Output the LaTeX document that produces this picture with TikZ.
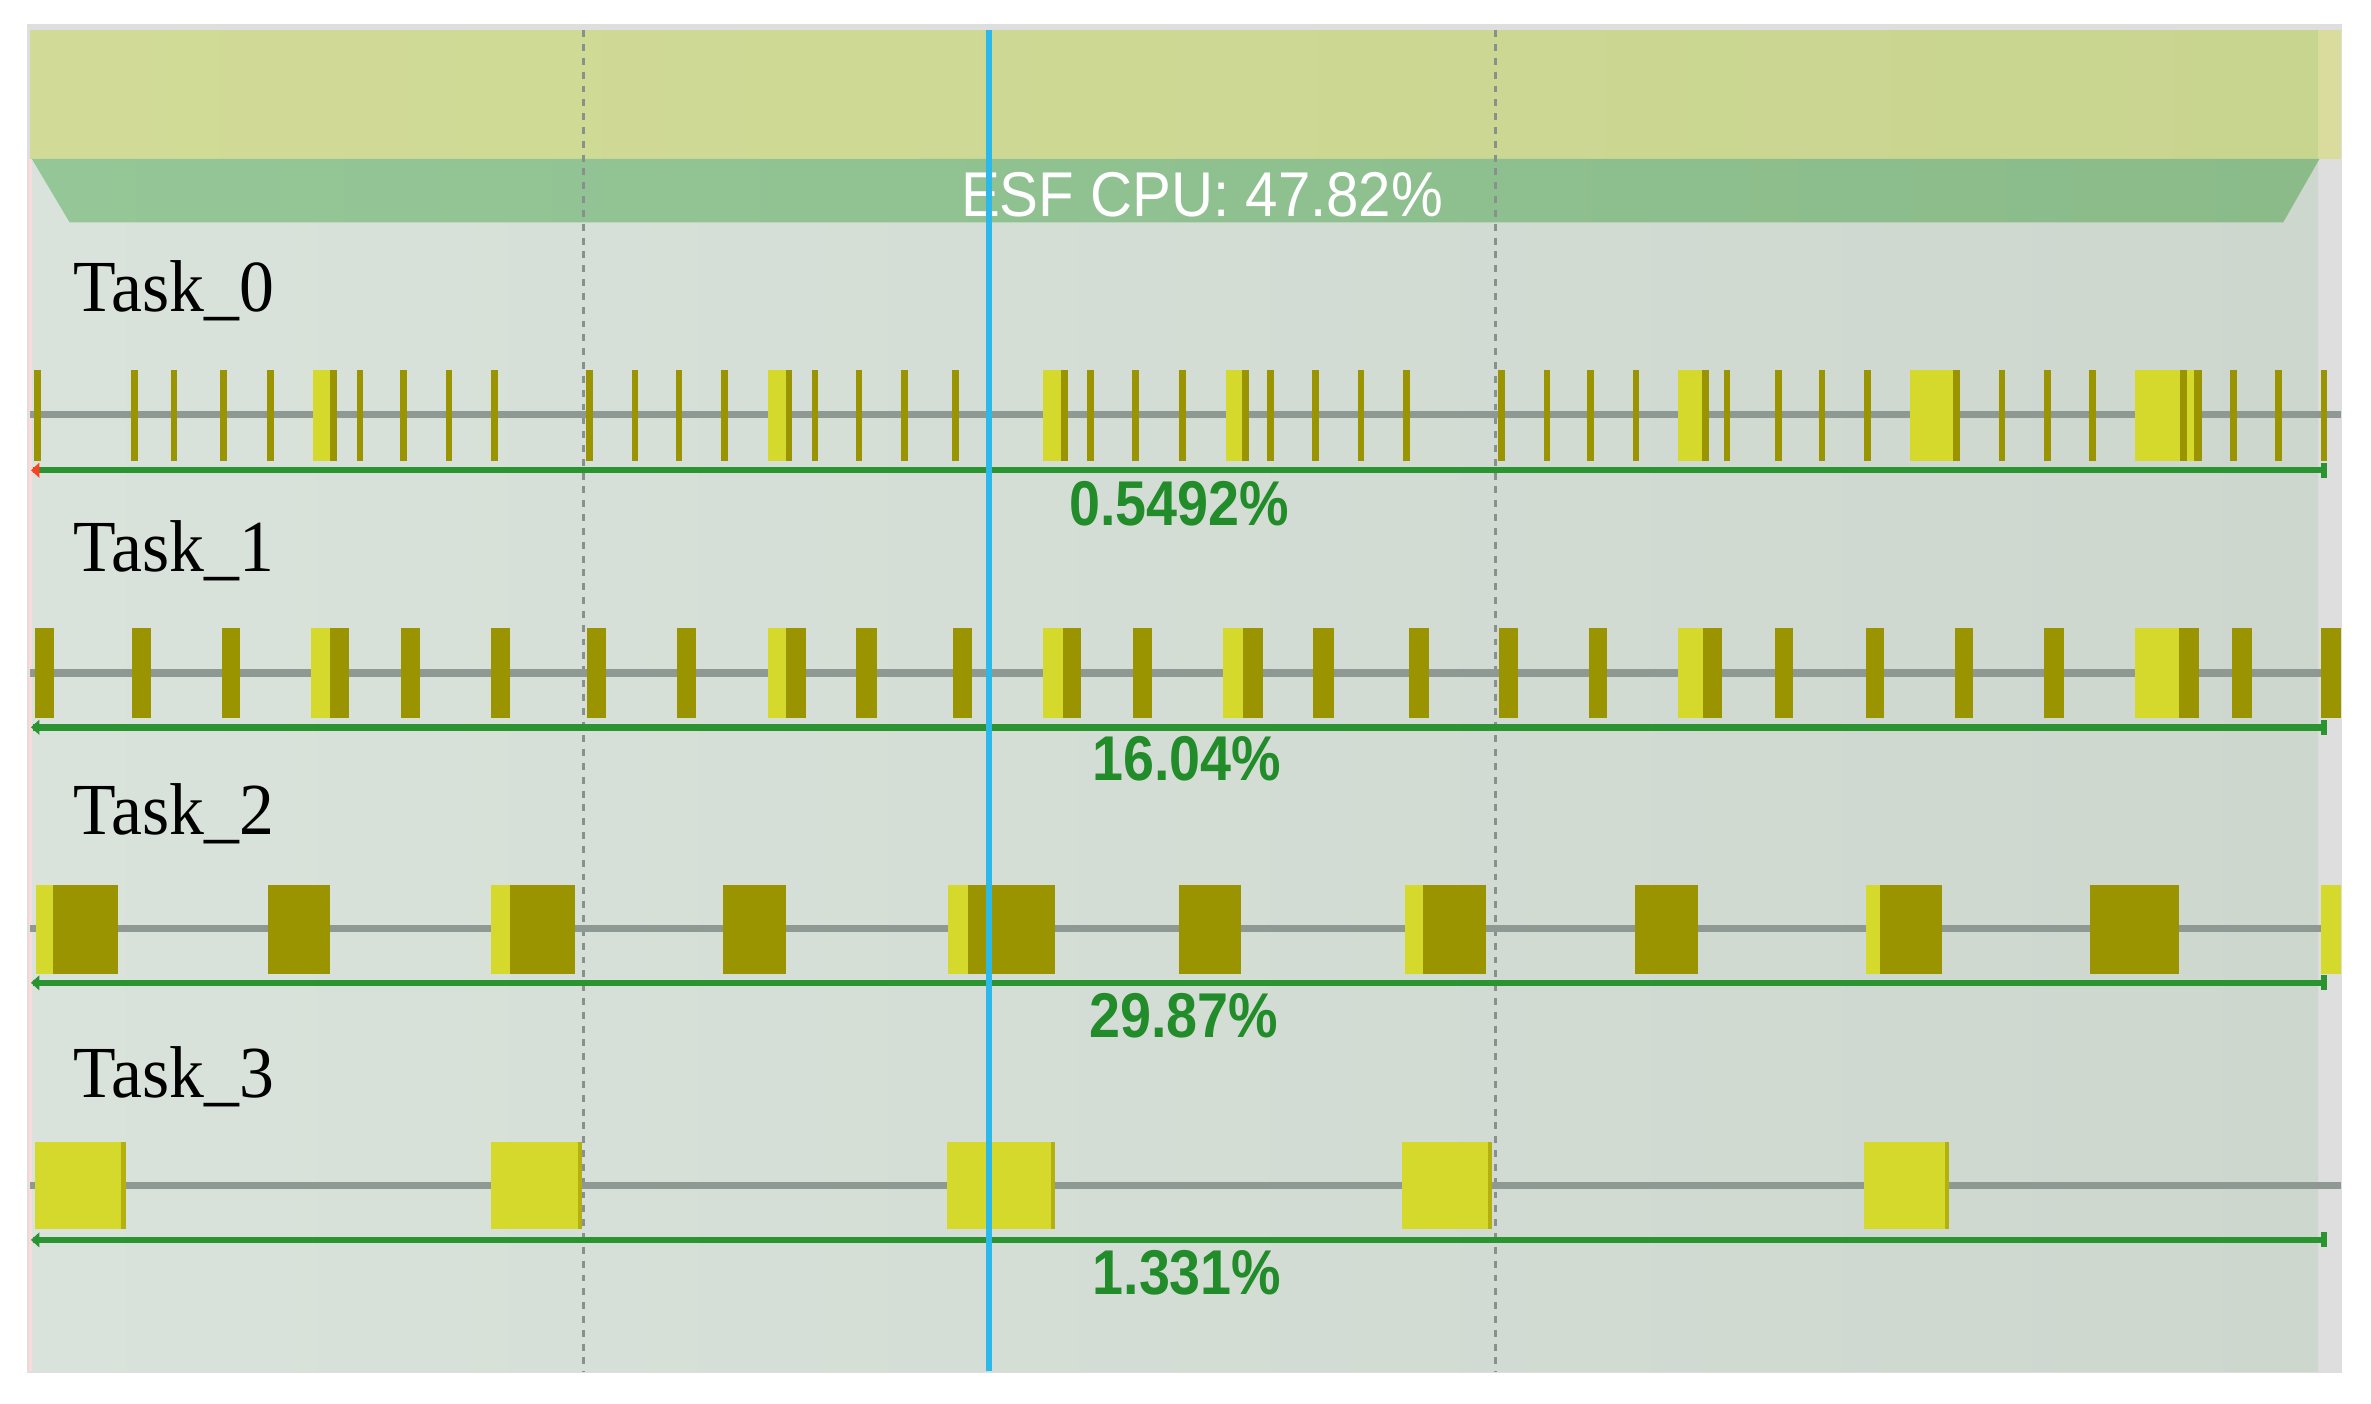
\documentclass[tikz,border=0pt]{standalone}
\usepackage{fontspec}
\setmainfont{Liberation Serif}
\newfontfamily\pctfont{Liberation Sans}
\definecolor{framegray}{HTML}{DEDEDE}
\definecolor{bodyL}{HTML}{DAE3DB}
\definecolor{bodyR}{HTML}{CDD7CE}
\definecolor{ybL}{HTML}{D1DB97}
\definecolor{ybR}{HTML}{C8D58F}
\definecolor{ybLight}{HTML}{D9DC9C}
\definecolor{gbL}{HTML}{95C697}
\definecolor{gbR}{HTML}{8ABB89}
\definecolor{barolive}{HTML}{9A9400}
\definecolor{baryellow}{HTML}{D5D92C}
\definecolor{edgeolive}{HTML}{B3B010}
\definecolor{timegray}{HTML}{8F9993}
\definecolor{greenline}{HTML}{2A9530}
\definecolor{pctgreen}{HTML}{218C29}
\definecolor{blueline}{HTML}{2DB8EA}
\definecolor{dotgray}{HTML}{8A908B}
\definecolor{capred}{HTML}{FF4020}
\begin{document}
\begin{tikzpicture}[x=0.01cm,y=-0.01cm,
  olv/.style={fill=barolive},
  ylw/.style={fill=baryellow},
  tline/.style={draw=timegray,line width=1.4pt},
  gline/.style={draw=greenline,line width=1.2pt},
  grid/.style={draw=dotgray,line width=0.45pt,dash pattern=on 1.3pt off 1.3pt},
  tasklabel/.style={anchor=base west,inner sep=0pt,font=\fontsize{13.8pt}{16pt}\selectfont,xscale=0.95},
  pct/.style={inner sep=0pt,text=pctgreen,font=\pctfont\bfseries\fontsize{11.9pt}{14pt}\selectfont,xscale=0.88}]
\useasboundingbox (0,0) rectangle (1568,928);
\fill[white] (0,0) rectangle (1568,928);
% frame and backgrounds
\fill[framegray] (18,16) rectangle (1549,908);
\shade[left color=bodyL,right color=bodyR] (20,105) rectangle (1533,907);
\shade[left color=ybL,right color=ybR] (20,20) rectangle (1533,105);
\fill[ybLight] (1533,20) rectangle (1548,105);
\shade[left color=gbL,right color=gbR] (21,105) -- (1534,105) -- (1510,147) -- (46,147) -- cycle;
\draw[color=red!15,line width=0.6pt] (20,105) -- (20,907);
% header text
\node[text=white,inner sep=0pt,font=\pctfont\fontsize{11.9pt}{14pt}\selectfont,xscale=0.92] (esf) at (795,129) {ESF CPU: 47.82\%};
% dotted grid lines
\coordinate (g1t) at (386,20); \coordinate (g1b) at (386,907);
\coordinate (g2t) at (989,20); \coordinate (g2b) at (989,907);
\draw[grid] (g1t) -- (g1b);
\draw[grid] (g2t) -- (g2b);
% timelines
\foreach \yy in {274,445,614,784} \draw[tline] (20,\yy) -- (1548,\yy);
% ---- Task_0 ----
\foreach \c in {25,89,115,148,179,238,267,297,327,390,420,449,479,539,568,598,632,721,751,782,840,870,900,930,993,1023,1052,1082,1142,1176,1205,1235,1324,1354,1384,1477,1507,1537}
  \fill[olv] (\c-2.2,245) rectangle (\c+2.2,305);
\foreach \a/\b in {207/223,508/524,690/706,811/826,1110/1130,1263/1296}
  {\fill[ylw] (\a,245) rectangle (\b,305); \fill[olv] (\b-4.5,245) rectangle (\b,305);}
\fill[ylw] (1412,245) rectangle (1456,305);
\fill[olv] (1442,245) rectangle (1446.5,305);
\fill[olv] (1451,245) rectangle (1456,305);
% ---- Task_1 ----
\foreach \a/\b in {206/218,508/520,690/703,809/822,1110/1126,1412/1441}
  \fill[ylw] (\a,415) rectangle (\b,475);
\foreach \a/\b in {23/36,87/100,147/159,218/231,265/278,325/337,388/401,448/460,520/533,566/580,630/643,703/715,749/762,822/835,868/882,932/945,991/1004,1051/1063,1126/1139,1174/1186,1234/1246,1293/1305,1352/1365,1441/1454,1476/1489,1535/1548}
  \fill[olv] (\a,415) rectangle (\b,475);
% ---- Task_2 ----
\foreach \a/\b in {24/35,325/337,627/640,929/941,1234/1243,1535/1548}
  \fill[ylw] (\a,585) rectangle (\b,644);
\foreach \a/\b in {35/78,177/218,337/380,478/520,640/698,780/821,941/983,1081/1123,1243/1284,1382/1441}
  \fill[olv] (\a,585) rectangle (\b,644);
% ---- Task_3 ----
\foreach \a/\b in {23/83,325/385,626/698,927/987,1233/1289}
  {\fill[ylw] (\a,755) rectangle (\b,813); \fill[edgeolive] (\b-3,755) rectangle (\b,813);}
% green utilisation lines
\foreach \yy/\cc in {311/capred,481/greenline,650/greenline,820/greenline}{
  \draw[gline] (22,\yy) -- (1537,\yy);
  \fill[\cc] (20.5,\yy) -- (26,\yy-5) -- (26,\yy+5) -- cycle;
  \fill[greenline] (1535,\yy-5) rectangle (1539,\yy+5);
}
% task labels
\node[tasklabel] (t0) at (48,206) {Task\_0};
\node[tasklabel] (t1) at (48,378) {Task\_1};
\node[tasklabel] (t2) at (48,552) {Task\_2};
\node[tasklabel] (t3) at (48,726) {Task\_3};
% percentages
\node[pct] (p0) at (780,333) {0.5492\%};
\node[pct] (p1) at (785,502) {16.04\%};
\node[pct] (p2) at (783,672) {29.87\%};
\node[pct] (p3) at (785,842) {1.331\%};
% blue cursor
\coordinate (bt) at (654,20); \coordinate (bb) at (654,907);
\draw[blueline,line width=1pt] (bt) -- (bb);
\end{tikzpicture}
\end{document}
